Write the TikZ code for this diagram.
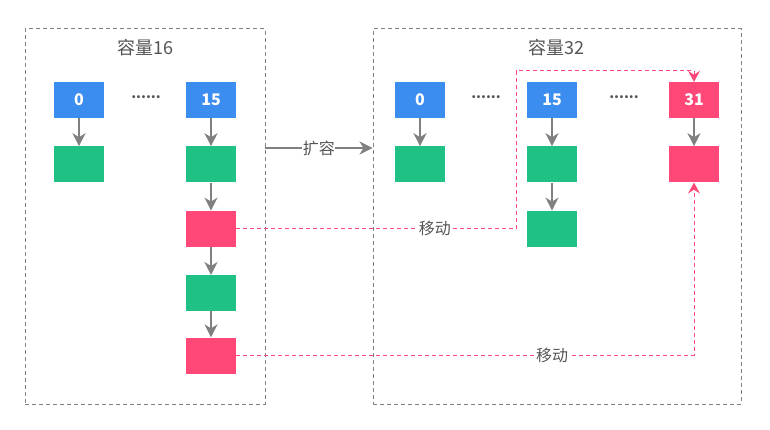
\documentclass[tikz,border=0pt]{standalone}
\usepackage{fontspec}
\setmainfont{Noto Sans CJK SC}
\usepackage{xcolor}
\usetikzlibrary{positioning,arrows.meta}
\definecolor{bucketblue}{HTML}{3C8DF0}
\definecolor{entrygreen}{HTML}{1FC184}
\definecolor{movedred}{HTML}{FF4778}
\definecolor{linkgray}{HTML}{808080}
\definecolor{textgray}{HTML}{555555}

\begin{document}
\begin{tikzpicture}[x=1pt,y=-1pt,
    cell/.style={rectangle, minimum width=50pt, minimum height=36pt, inner sep=0pt, text=white, font=\bfseries\fontsize{16}{16}\selectfont},
    bucket/.style={cell, fill=bucketblue},
    entry/.style={cell, fill=entrygreen},
    moved/.style={cell, fill=movedred},
    region/.style={rectangle, draw=linkgray, dash pattern=on 4pt off 3pt, line width=1pt, inner sep=0pt},
    title/.style={text=textgray, font=\fontsize{18}{18}\selectfont},
    dots/.style={text=textgray, font=\bfseries\fontsize{14}{14}\selectfont},
    tag/.style={fill=white, inner sep=0.5pt, text=textgray, font=\fontsize{16}{16}\selectfont},
    link/.style={-{Stealth[length=13pt,width=13pt,inset=4pt]}, draw=linkgray, line width=1.8pt},
    movelink/.style={-{Stealth[length=11pt,width=12pt,inset=4pt]}, draw=movedred, line width=1pt, dash pattern=on 4pt off 3pt}]
    \useasboundingbox (0,0) rectangle (770,430);

    % the two tables
    \node [region, minimum width=240pt, minimum height=375pt] (old) at (145,216.5) {};
    \node [region, minimum width=368pt, minimum height=375pt] (new) at (557,216.5) {};
    \node [title] (oldtitle) at (145,48) {容量16};
    \node [title] (newtitle) at (556,48) {容量32};

    % capacity 16
    \node [bucket] (o0) at (79,100) {0};
    \node [bucket] (o15) at (211,100) {15};
    \node [dots] (odots) at (146,97) {......};
    \node [entry, below=28pt of o0] (o0a) {};
    \node [entry, below=28pt of o15] (o15a) {};
    \node [moved, below=28pt of o15a] (o15b) {};
    \node [entry, below=28pt of o15b] (o15c) {};
    \node [moved, below=26pt of o15c] (o15d) {};

    % capacity 32
    \node [bucket] (n0) at (420,100) {0};
    \node [bucket] (n15) at (552,100) {15};
    \node [moved] (n31) at (694,100) {31};
    \node [dots] (ndots1) at (486,97) {......};
    \node [dots] (ndots2) at (624,97) {......};
    \node [entry, below=28pt of n0] (n0a) {};
    \node [entry, below=28pt of n15] (n15a) {};
    \node [entry, below=28pt of n15a] (n15b) {};
    \node [moved, below=28pt of n31] (n31a) {};

    % chains
    \draw [link] (o0) -- (o0a);
    \draw [link] (o15) -- (o15a);
    \draw [link] (o15a) -- (o15b);
    \draw [link] (o15b) -- (o15c);
    \draw [link] (o15c) -- (o15d);
    \draw [link] (n0) -- (n0a);
    \draw [link] (n15) -- (n15a);
    \draw [link] (n15a) -- (n15b);
    \draw [link] (n31) -- (n31a);

    % resize
    \coordinate (grow) at (265,148);
    \draw [link, line width=1.2pt] (grow) -- node[tag, pos=0.5] {扩容} (grow -| new.west);

    % moved entries
    \coordinate (turn) at (516,71);
    \draw [movelink] (o15b.east) -- node[tag, pos=0.71] {移动} (o15b.east -| turn) -- (turn) -- (turn -| n31.north) -- (n31.north);
    \draw [movelink] (o15d.east) -- node[tag, pos=0.69] {移动} (o15d.east -| n31a.south) -- (n31a.south);
\end{tikzpicture}
\end{document}
